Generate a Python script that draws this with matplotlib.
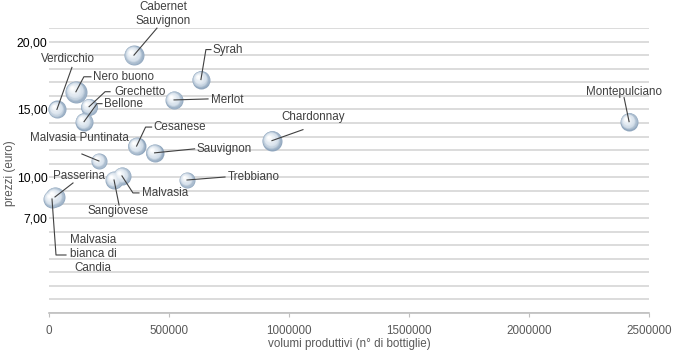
import numpy as np
import matplotlib
matplotlib.use("Agg")
import matplotlib.pyplot as plt
from matplotlib.colors import to_rgb
from matplotlib.lines import Line2D
from matplotlib.ticker import MultipleLocator
from matplotlib.transforms import IdentityTransform, ScaledTranslation, offset_copy

plt.rcParams['font.family'] = ['Liberation Sans', 'DejaVu Sans']

# ---------------------------------------------------------------------
# Data
# ---------------------------------------------------------------------
wines = ['Cabernet\nSauvignon', 'Syrah', 'Verdicchio', 'Nero buono', 'Grechetto',
         'Bellone', 'Merlot', 'Cesanese', 'Sauvignon', 'Chardonnay', 'Montepulciano',
         'Malvasia Puntinata', 'Malvasia\nbianca di\nCandia', 'Passerina',
         'Sangiovese', 'Malvasia', 'Trebbiano']
volumes = [354000, 633000, 33000, 112000, 167000, 146000, 521000, 365000, 440000,
           929000, 2417000, 208000, 12500, 25000, 271000, 304000, 575000]
prices = [19.0, 17.2, 15.0, 16.3, 15.2, 14.1, 15.7, 12.3, 11.8, 12.7, 14.1,
          11.2, 8.4, 8.55, 9.8, 10.1, 9.8]
bubble_size = [10, 9, 9, 11, 8.5, 9, 9, 9, 9, 10, 9, 8, 9, 10, 9, 9, 8]

x_ticks = [0, 500000, 1000000, 1500000, 2000000, 2500000]
y_ticks = [20, 15, 10, 7]
y_tick_labels = ['20,00', '15,00', '10,00', '7,00']

# label placement: text offset (px), alignment, leader path (px, ends at bubble)
label_layout = {
    'Cabernet\nSauvignon': ((29, 41), 'center', [(23, 27), (0, 0)]),
    'Syrah': ((12, 30), 'left', [(10, 30), (5, 30), (0, 0)]),
    'Verdicchio': ((11, 50), 'center', [(15, 42), (0, 0)]),
    'Nero buono': ((17, 15), 'left', [(15, 15), (8, 15), (0, 0)]),
    'Grechetto': ((25, 15), 'left', [(21, 15), (16, 15), (0, 0)]),
    'Bellone': ((20, 18), 'left', [(18, 18), (13, 18), (0, 0)]),
    'Merlot': ((37, 0), 'left', [(34, 1), (0, 0)]),
    'Cesanese': ((17, 19), 'left', [(15, 19), (9, 19), (0, 0)]),
    'Sauvignon': ((42, 4), 'left', [(40, 4), (0, 0)]),
    'Chardonnay': ((41, 24), 'center', [(31, 11), (0, 0)]),
    'Montepulciano': ((-5, 30), 'center', [(-5, 24), (0, 0)]),
    'Malvasia Puntinata': ((-19, 23), 'center', [(-17, 7), (0, 0)]),
    'Malvasia\nbianca di\nCandia': ((41, -55), 'center', [(14, -56), (4, -56), (0, 0)]),
    'Passerina': ((24, 21), 'center', [(18, 14), (0, 0)]),
    'Sangiovese': ((4, -31), 'center', [(5, -25), (0, 0)]),
    'Malvasia': ((20, -17), 'left', [(17, -17), (11, -17), (0, 0)]),
    'Trebbiano': ((41, 3), 'left', [(38, 3), (0, 0)]),
}

# ---------------------------------------------------------------------
# Figure
# ---------------------------------------------------------------------
fig = plt.figure(figsize=(6.75, 3.53), dpi=100)
ax = fig.add_axes([49 / 675, 1 - 313 / 353, 600 / 675, 285 / 353])
ax.set_xlim(0, 2500000)
ax.set_ylim(0, 21)

# shaded spheres built from stacked discs (light glossy look)
edge = np.array(to_rgb('#91a7be'))
mid = np.array(to_rgb('#d6e1eb'))
white = np.array([1.0, 1.0, 1.0])
n_layers = 16
for xv, yv, r in zip(volumes, prices, bubble_size):
    for k in range(n_layers):
        t = k / (n_layers - 1)
        frac = 1 - 0.88 * t
        shift = 0.36 * t * r
        if t < 0.35:
            col = edge + (mid - edge) * (t / 0.35)
        else:
            col = mid + (white - mid) * ((t - 0.35) / 0.65)
        tr = offset_copy(ax.transData, fig=fig, x=-shift, y=shift, units='dots')
        ax.scatter([xv], [yv], s=(1.44 * r * frac) ** 2, color=col,
                   linewidths=0, transform=tr, zorder=3 + k * 0.01, clip_on=False)

# labels and leader lines
for name, xv, yv in zip(wines, volumes, prices):
    (tx, ty), ha, path = label_layout[name]
    ax.annotate(name, xy=(xv, yv), xytext=(tx, ty), textcoords='offset pixels',
                ha=ha, va='center', multialignment='center',
                fontsize=8.4, color='#404040', zorder=6)
    trans = IdentityTransform() + ScaledTranslation(xv, yv, ax.transData)
    px = [p[0] for p in path]
    py = [p[1] for p in path]
    ax.add_line(Line2D(px, py, transform=trans, color='#404040',
                       lw=0.8, zorder=5, clip_on=False))

# axes styling
ax.set_xticks(x_ticks)
ax.set_xticklabels([str(v) for v in x_ticks])
ax.set_yticks(y_ticks)
ax.set_yticklabels(y_tick_labels)
ax.yaxis.set_minor_locator(MultipleLocator(1))
ax.grid(which='both', axis='y', color='#d9d9d9', lw=1.3)
ax.set_axisbelow(True)

for side in ['top', 'right', 'left']:
    ax.spines[side].set_visible(False)
ax.spines['bottom'].set_color('#bfbfbf')
ax.spines['bottom'].set_linewidth(1.2)

ax.tick_params(axis='x', direction='out', length=3, color='#bfbfbf',
               labelsize=8.4, labelcolor='#595959', pad=6)
ax.tick_params(axis='y', which='both', length=0, labelsize=8.8,
               labelcolor='black', pad=1)

ax.set_xlabel('volumi produttivi (n° di bottiglie)', fontsize=8.4, color='#595959')
ax.xaxis.set_label_coords(0.5, -0.088)
ax.set_ylabel('prezzi (euro)', fontsize=8.4, color='#595959')
ax.yaxis.set_label_coords(-0.055, 0.49)

fig.savefig('out.png', dpi=100)
